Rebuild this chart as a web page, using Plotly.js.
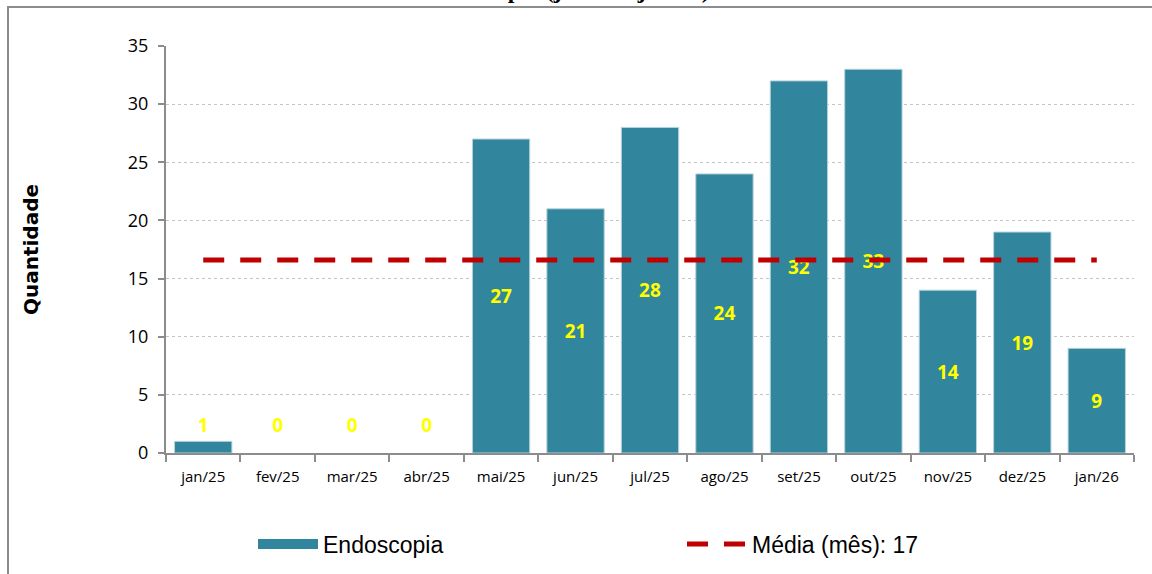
<!DOCTYPE html>
<html>
<head>
<meta charset="utf-8">
<script src="https://cdn.plot.ly/plotly-3.0.1.min.js"></script>
<style>
  html, body { margin: 0; padding: 0; background: #fff; }
  #chart { width: 1152px; height: 574px; }
</style>
</head>
<body>
<div id="chart"></div>
<script>
// months on the x axis
const months = ['jan/25', 'fev/25', 'mar/25', 'abr/25', 'mai/25', 'jun/25', 'jul/25',
                'ago/25', 'set/25', 'out/25', 'nov/25', 'dez/25', 'jan/26']
// endoscopias per month
const endoscopia = [1, 0, 0, 0, 27, 21, 28, 24, 32, 33, 14, 19, 9]
// monthly mean as drawn (label says 17)
const mediaValor = 16.6
const mediaLabel = 'Média (mês): 17'

const corBarra = '#31859C'
const labelFont = { family: 'Open Sans, sans-serif', size: 19, color: '#FFFF00', weight: 'bold' }

// big bars get their label in the middle, small ones get it above
const grande = endoscopia.map(v => v >= 5)

let barras = {
    type: 'bar',
    name: 'Endoscopia',
    legendgroup: 'endo',
    showlegend: false,
    x: months,
    y: endoscopia,
    marker: {
        color: corBarra,
        line: { color: '#B7D3DD', width: endoscopia.map(v => v > 0 ? 1 : 0) },
    },
    text: endoscopia.map((v, i) => grande[i] ? String(v) : ''),
    textposition: 'inside',
    insidetextanchor: 'middle',
    constraintext: 'none',
    textfont: labelFont,
    hoverinfo: 'x+y',
}

// legend only: a wide flat swatch like the original's
let legendaBarra = {
    type: 'scatter',
    mode: 'lines',
    name: 'Endoscopia',
    legendgroup: 'endo',
    x: [months[0]],
    y: [null],
    line: { color: corBarra, width: 16 },
    hoverinfo: 'skip',
}

// labels of the small bars, sat just over a 1-unit bar like the original
let rotulosPequenos = {
    type: 'scatter',
    mode: 'text',
    showlegend: false,
    x: months.filter((m, i) => !grande[i]),
    y: endoscopia.filter((v, i) => !grande[i]).map(v => Math.max(v, 1.4)),
    text: endoscopia.filter((v, i) => !grande[i]).map(String),
    textposition: 'top center',
    textfont: labelFont,
    cliponaxis: false,
    hoverinfo: 'skip',
}

let media = {
    type: 'scatter',
    mode: 'lines',
    name: mediaLabel,
    x: months,
    y: months.map(() => mediaValor),
    line: { color: '#C00000', width: 5, dash: '21px,16px' },
}

const layout = {
    width: 1152,
    height: 574,
    margin: { l: 166, r: 18, t: 46, b: 121 },
    paper_bgcolor: '#fff',
    plot_bgcolor: '#fff',
    bargap: 0.23,
    showlegend: true,
    legend: {
        orientation: 'h',
        xref: 'container', x: 253 / 1152,
        yref: 'container', y: 30 / 574, yanchor: 'middle',
        itemwidth: 60,
        entrywidth: 354,
        font: { family: 'Liberation Sans, Arial, sans-serif', size: 23, color: '#000' },
    },
    xaxis: {
        type: 'category',
        tickson: 'boundaries',
        ticks: 'outside', ticklen: 7, tickcolor: '#8c8c8c', tickwidth: 2,
        showline: true, linecolor: '#8c8c8c', linewidth: 2,
        showgrid: false,
        ticklabelstandoff: 9,
        tickfont: { family: 'Open Sans, sans-serif', size: 15, color: '#000' },
        range: [-0.5, 12.5],
    },
    yaxis: {
        range: [0, 35],
        dtick: 5,
        ticks: 'outside', ticklen: 6, tickcolor: '#8c8c8c', tickwidth: 2,
        showline: true, linecolor: '#8c8c8c', linewidth: 2,
        showgrid: true, gridcolor: '#c4c4c4', griddash: 'dot', gridwidth: 1,
        zeroline: false,
        ticklabelstandoff: 6,
        tickfont: { family: 'Open Sans, sans-serif', size: 18, color: '#000' },
        title: {
            text: '<b>Quantidade</b>',
            font: { family: 'DejaVu Sans, sans-serif', size: 20, color: '#000' },
            standoff: 84,
        },
    },
    annotations: [{
        text: '<b>Endoscopia (jan/25 - jan/26)</b>',
        xref: 'paper', yref: 'paper',
        x: (565 - 166) / 968, y: 1 + (46 - 5) / 407,
        xanchor: 'center', yanchor: 'bottom',
        showarrow: false,
        font: { family: 'Liberation Serif, Times New Roman, serif', size: 24, color: '#000' },
    }],
    shapes: [{
        type: 'rect',
        xref: 'paper', yref: 'paper',
        x0: (8 - 166) / 968, x1: 1.1,
        y0: -0.5, y1: 1 + (46 - 7) / 407,
        line: { color: '#8c8c8c', width: 2 },
        fillcolor: 'rgba(0,0,0,0)',
        layer: 'below',
    }],
}

Plotly.newPlot('chart', [barras, legendaBarra, rotulosPequenos, media], layout, { displayModeBar: false, staticPlot: true })
</script>
</body>
</html>
